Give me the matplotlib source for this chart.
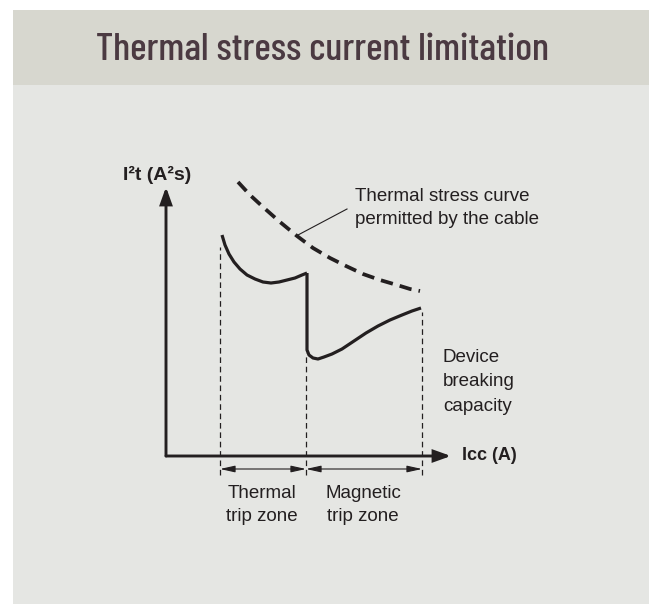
import matplotlib
matplotlib.use("Agg")
import matplotlib.pyplot as plt
from matplotlib.patches import Rectangle

# chart units: Icc along x, I2t along y (arbitrary units)
thermal_x = [56, 59, 63, 68, 74, 81, 89, 97, 105, 113, 121, 129, 136, 141]
thermal_y = [221, 211, 202, 194, 187, 181, 177, 174, 173, 174, 176, 178, 181, 183]
magnetic_x = [141, 141, 143, 147, 152, 158, 166, 176, 188, 200, 212, 224, 236, 246, 255]
magnetic_y = [183, 106, 101, 98, 97, 99, 102, 107, 115, 123, 130, 136, 141, 145, 148]
cable_x = [72, 84, 97, 114, 131, 147, 164, 180, 197, 214, 231, 244, 254]
cable_y = [274, 261, 249, 234, 220, 208, 198, 190, 182, 176, 171, 167, 165]

zone_edges = [54, 140, 256]
zone_tops = [209, 103, 144]
zone_labels = ["Thermal\ntrip zone", "Magnetic\ntrip zone"]

TITLE = "Thermal stress current limitation"
INK = "#231f20"

plt.rcParams["font.family"] = ["Liberation Sans", "DejaVu Sans"]

W, H = 649, 604
fig = plt.figure(figsize=(W / 100, H / 100), dpi=100)
fig.patch.set_facecolor("white")

# panel backgrounds
fig.patches.append(Rectangle((13 / W, -0.01), 1.0, 1 - 85 / H + 0.01, zorder=-2,
                             transform=fig.transFigure, facecolor="#e5e6e3", edgecolor="none"))
fig.patches.append(Rectangle((13 / W, 1 - 85 / H), 1.0, 75 / H, zorder=-2,
                             transform=fig.transFigure, facecolor="#d7d7cf", edgecolor="none"))
fig.text(322 / W, 1 - 50 / H, TITLE, ha="center", va="center", fontsize=28.3,
         fontweight="medium", color="#4b3a42",
         family=["Barlow Condensed", "DejaVu Sans"])

ax = fig.add_axes([166 / W, (H - 456) / H, 285 / W, 269 / H])
ax.set_xlim(0, 285)
ax.set_ylim(0, 269)
ax.axis("off")

# axes with arrow heads
axis_arrow = dict(arrowstyle="-|>,head_length=0.7,head_width=0.25", lw=2.1, color=INK,
                  mutation_scale=14, shrinkA=0, shrinkB=0, joinstyle="miter")
ax.annotate("", xy=(285, 0), xytext=(0, 0), arrowprops=axis_arrow, annotation_clip=False)
ax.annotate("", xy=(0, 269), xytext=(0, 0), arrowprops=axis_arrow, annotation_clip=False)

# zone boundaries
for x, top in zip(zone_edges, zone_tops):
    ax.plot([x, x], [-19, top], color=INK, lw=0.9, dashes=(4.5, 3), clip_on=False)

zone_arrow = dict(arrowstyle="<|-|>,head_length=0.9,head_width=0.2", lw=0.8, color=INK,
                  mutation_scale=10, shrinkA=0, shrinkB=0)
for i, label in enumerate(zone_labels):
    ax.annotate("", xy=(zone_edges[i + 1], -13), xytext=(zone_edges[i], -13),
                arrowprops=zone_arrow, annotation_clip=False)
    ax.text((zone_edges[i] + zone_edges[i + 1]) / 2 - 1, -49, label, ha="center",
            va="center", fontsize=13.5, color=INK, linespacing=1.45)

# curves
ax.plot(cable_x, cable_y, color=INK, lw=2.7, dashes=(3.3, 1.9), clip_on=False)
ax.plot(thermal_x, thermal_y, color=INK, lw=2.3, clip_on=False, solid_capstyle="butt")
ax.plot(magnetic_x, magnetic_y, color=INK, lw=2.3, clip_on=False, solid_joinstyle="round",
        solid_capstyle="butt")

# labels
ax.plot([132, 181], [221, 247], color=INK, lw=0.8, clip_on=False)
ax.text(189, 248, "Thermal stress curve\npermitted by the cable", ha="left", va="center",
        fontsize=13.5, color=INK, linespacing=1.52)
ax.text(277, 74, "Device\nbreaking\ncapacity", ha="left", va="center",
        fontsize=13.5, color=INK, linespacing=1.55)
ax.text(296, 0, "Icc (A)", ha="left", va="center", fontsize=13, fontweight="bold", color=INK)
ax.text(-9, 281, "I²t (A²s)", ha="center", va="center", fontsize=14, fontweight="bold",
        color=INK)

fig.savefig("out.png", dpi=100)
